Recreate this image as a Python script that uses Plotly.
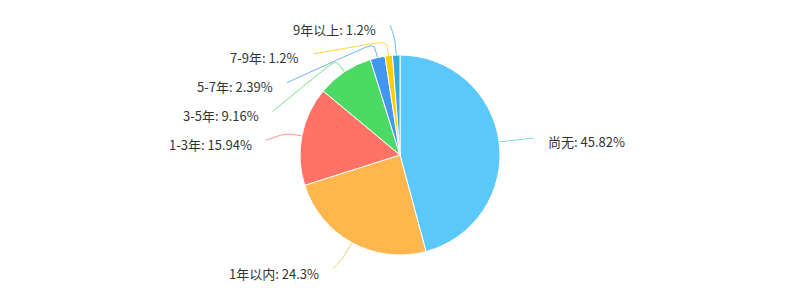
import math
import plotly.graph_objects as go

# ---- data ----
categories = ["尚无", "1年以内", "1-3年", "3-5年", "5-7年", "7-9年", "9年以上"]
values = [45.82, 24.3, 15.94, 9.16, 2.39, 1.2, 1.2]
value_labels = ["45.82%", "24.3%", "15.94%", "9.16%", "2.39%", "1.2%", "1.2%"]

# ---- style ----
colors = ["#5AC8FA", "#FFB64D", "#FF7265", "#4CD964", "#4196F0", "#FFCC00", "#34AADC"]
W, H = 800, 300
CX, CY, R = 400, 155, 100        # pie centre / radius in px
LEN1 = 15                        # first leader segment
LEN_LABEL = 30                   # radial offset of label anchor
LEN2 = 5                         # second leader segment
GAP = 12                         # line end -> text
LABEL_H = 28.8                   # min vertical label spacing
SMOOTH = 0.3
FONT = "Microsoft YaHei, Noto Sans CJK SC, sans-serif"

total = sum(values)
items = []
cum = 0.0
for cat, v, vl, col in zip(categories, values, value_labels, colors):
    mid = (cum + v / 2) / total * 2 * math.pi
    cum += v
    s, c = math.sin(mid), math.cos(mid)
    d = -1 if s < 0 else 1
    p0 = (CX + R * s, CY - R * c)
    p1 = (CX + (R + LEN1) * s, CY - (R + LEN1) * c)
    ly = CY - (R + LEN_LABEL) * c
    lx = CX + (R + LEN_LABEL) * s + d * LEN2
    items.append(dict(cat=cat, text=f"{cat}: {vl}", col=col, dir=d, p0=p0, p1=p1,
                      y=ly, x=lx, ny=ly))

# label overlap layout per side (push forward), then align on ellipse
for d in (-1, 1):
    side = sorted([it for it in items if it["dir"] == d], key=lambda t: t["y"])
    if len(side) < 2:
        continue
    last = -1e9
    for it in side:
        if it["y"] < last + LABEL_H:
            it["y"] = last + LABEL_H
        last = it["y"]
    rA = R + LEN_LABEL
    for upper in (True, False):
        semi = [it for it in side if (it["y"] <= CY) == upper]
        if not semi:
            continue
        far = max(semi, key=lambda t: abs(t["y"] - CY))
        dy = abs(far["y"] - CY)
        dx = far["x"] - CX - LEN2 * d
        rB = math.sqrt(dy * dy / (1 - dx * dx / rA / rA)) if abs(dx) < rA else rA
        for it in semi:
            dyi = abs(it["y"] - CY)
            ddx = math.sqrt(max(0.0, 1 - dyi * dyi / rB / rB)) * rA
            it["x"] = CX + (ddx + LEN2) * d


def lerp(a, b, t):
    return (a[0] + (b[0] - a[0]) * t, a[1] + (b[1] - a[1]) * t)


def bez(a, b, c, e, n=16):
    pts = []
    for i in range(n + 1):
        t = i / n
        mt = 1 - t
        x = mt**3 * a[0] + 3 * mt * mt * t * b[0] + 3 * mt * t * t * c[0] + t**3 * e[0]
        y = mt**3 * a[1] + 3 * mt * mt * t * b[1] + 3 * mt * t * t * c[1] + t**3 * e[1]
        pts.append((x, y))
    return pts


def smooth_line(p0, p1, p2):
    l1 = math.dist(p0, p1)
    l2 = math.dist(p1, p2)
    if l1 < 1e-6 or l2 < 1e-6:
        return [p0, p1, p2]
    m = min(l1, l2) * SMOOTH
    m0 = lerp(p1, p0, m / l1)
    m2 = lerp(p1, p2, m / l2)
    m1 = lerp(m0, m2, 0.5)
    return bez(p0, m0, m0, m1) + bez(m1, m2, m2, p2)[1:]


fig = go.Figure()
fig.add_trace(go.Pie(
    labels=categories, values=values, sort=False, direction="clockwise", rotation=0,
    marker=dict(colors=colors, line=dict(color="#ffffff", width=1)),
    textinfo="none", hoverinfo="label+percent", showlegend=False,
    domain=dict(x=[(CX - R) / W, (CX + R) / W], y=[(H - CY - R) / H, (H - CY + R) / H]),
))

for it in items:
    p2 = (it["x"], it["y"])
    pts = smooth_line(it["p0"], it["p1"], p2)
    fig.add_trace(go.Scatter(
        x=[p[0] for p in pts], y=[p[1] for p in pts], mode="lines",
        line=dict(color=it["col"], width=1), opacity=0.75,
        hoverinfo="skip", showlegend=False, xaxis="x", yaxis="y"))
    fig.add_annotation(
        x=it["x"] + it["dir"] * GAP, y=it["y"] + 4, xref="x", yref="y",
        text=it["text"], showarrow=False,
        xanchor="left" if it["dir"] > 0 else "right", yanchor="middle",
        font=dict(family=FONT, size=13, color="#333333"))

fig.update_layout(
    width=W, height=H, margin=dict(l=0, r=0, t=0, b=0),
    paper_bgcolor="#ffffff", plot_bgcolor="rgba(0,0,0,0)",
    xaxis=dict(range=[0, W], visible=False, fixedrange=True, domain=[0, 1]),
    yaxis=dict(range=[H, 0], visible=False, fixedrange=True, domain=[0, 1]),
)

fig.write_html("out.html")
